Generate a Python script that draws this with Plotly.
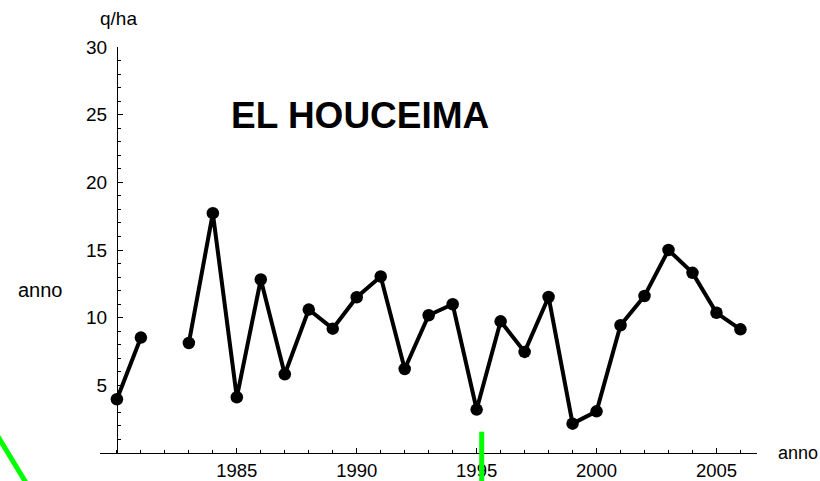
import plotly.graph_objects as go

# ---- data ----
years = [1980, 1981, 1982, 1983, 1984, 1985, 1986, 1987, 1988, 1989, 1990,
         1991, 1992, 1993, 1994, 1995, 1996, 1997, 1998, 1999, 2000, 2001,
         2002, 2003, 2004, 2005, 2006]
yields = [3.97, 8.53, None, 8.13, 17.72, 4.12, 12.82, 5.82, 10.60, 9.19, 11.51,
          13.04, 6.21, 10.18, 10.99, 3.21, 9.73, 7.47, 11.53, 2.17, 3.08, 9.44,
          11.60, 15.00, 13.31, 10.36, 9.14]
x_ticks = [1985, 1990, 1995, 2000, 2005]
y_ticks = [5, 10, 15, 20, 25, 30]
x_minor = list(range(1980, 2007))
y_minor = list(range(1, 30))

W, H = 820, 481
L, R, T, B = 100, 63, 47, 28
PW, PH = W - L - R, H - T - B
XMIN, XMAX = 1979.295, 2006.69
ORIGIN_X = 1980

def px(xp):
    return (xp - L) / PW

def py(yp):
    return (H - B - yp) / PH

FONT = "Liberation Sans, Arial, sans-serif"

fig = go.Figure()
fig.add_trace(go.Scatter(
    x=years, y=yields, mode="lines+markers",
    line=dict(color="black", width=4),
    marker=dict(color="black", size=12.5),
    connectgaps=False, cliponaxis=False, showlegend=False,
))

fig.update_layout(
    width=W, height=H,
    margin=dict(l=L, r=R, t=T, b=B, pad=0, autoexpand=False),
    paper_bgcolor="white", plot_bgcolor="white",
    font=dict(family=FONT, color="black", size=19),
    xaxis=dict(
        range=[XMIN, XMAX], showgrid=False, zeroline=False, automargin=False,
        showline=True, linecolor="black", linewidth=1,
        tickmode="array", tickvals=x_ticks,
        ticks="inside", ticklen=5, tickwidth=1, tickcolor="black",
        tickfont=dict(size=18.5, family=FONT, color="black"),
        ticklabelstandoff=1,
        minor=dict(tickmode="array", tickvals=x_minor, ticks="inside",
                   ticklen=3, tickwidth=1, tickcolor="black", showgrid=False),
        anchor="y",
    ),
    yaxis=dict(
        range=[0, 30], showgrid=False, zeroline=False, automargin=False,
        showline=True, linecolor="black", linewidth=1,
        tickmode="array", tickvals=y_ticks,
        ticks="inside", ticklen=5, tickwidth=1, tickcolor="black",
        tickfont=dict(size=19, family=FONT, color="black"),
        ticklabelstandoff=6,
        minor=dict(tickmode="array", tickvals=y_minor, ticks="inside",
                   ticklen=3, tickwidth=1, tickcolor="black", showgrid=False),
        anchor="free",
        position=(ORIGIN_X - XMIN) / (XMAX - XMIN),
    ),
)

annos = [
    dict(text="q/ha", x=px(118), y=py(18), xanchor="center", yanchor="middle",
         font=dict(size=19)),
    dict(text="anno", x=px(40), y=py(290), xanchor="center", yanchor="middle",
         font=dict(size=20)),
    dict(text="anno", x=px(776), y=py(453), xanchor="left", yanchor="middle",
         font=dict(size=18)),
    dict(text="<b>EL HOUCEIMA</b>", x=px(360), y=py(116), xanchor="center",
         yanchor="middle", font=dict(size=37)),
]
for a in annos:
    fig.add_annotation(xref="paper", yref="paper", showarrow=False, **a)

# green stray strokes
fig.add_shape(type="line", xref="paper", yref="paper",
              x0=px(-3), y0=py(435), x1=px(28), y1=py(486),
              line=dict(color="#00FF00", width=5))
fig.add_shape(type="line", xref="paper", yref="paper",
              x0=px(481.7), y0=py(431.7), x1=px(481.7), y1=py(486),
              line=dict(color="#00FF00", width=5))

fig.write_html("out.html")
